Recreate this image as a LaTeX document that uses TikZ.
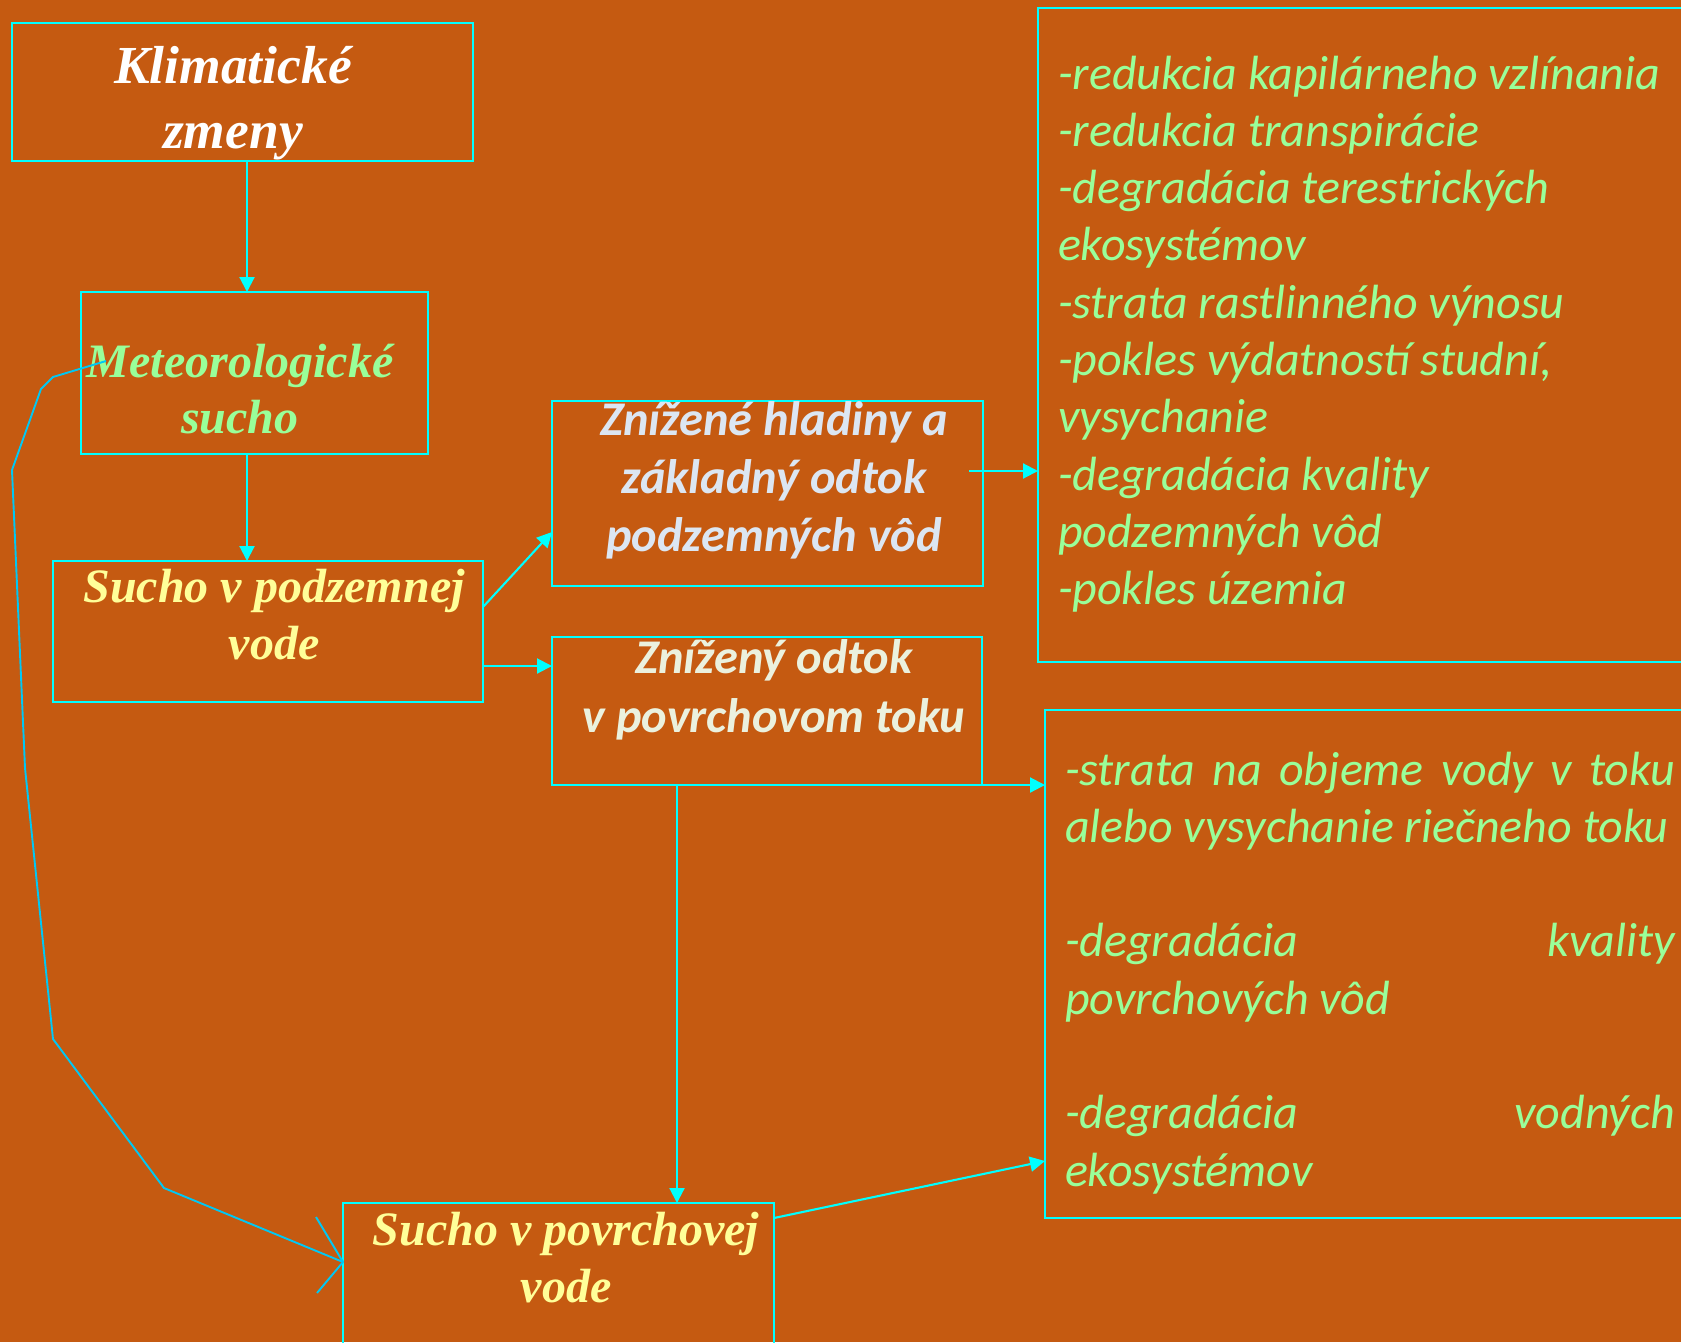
\documentclass[tikz,border=0pt]{standalone}
\usepackage{fontspec}
\setmainfont{Liberation Serif}
\newfontfamily\calfont{Carlito}
\usetikzlibrary{arrows.meta}
\definecolor{bg}{HTML}{C55A11}
\definecolor{cyanc}{HTML}{00FFFF}
\definecolor{polyc}{RGB}{0,200,245}
\definecolor{greent}{HTML}{99FF99}
\definecolor{yellowt}{HTML}{FFFF99}
\definecolor{bluet}{HTML}{DCE6F2}
\definecolor{palet}{HTML}{EBF1DE}
\newcommand\ctr[1]{\vtop{\halign{\hfil##\hfil\cr#1\crcr}}}
\newcommand\ltx[1]{\vtop{\halign{##\hfil\cr#1\crcr}}}
\begin{document}
\begin{tikzpicture}[x=1pt,y=-1pt,
  box/.style={draw=cyanc, line width=2.1pt, rectangle, inner sep=0pt, outer sep=0pt},
  arr/.style={draw=cyanc, line width=2.1pt, -{Triangle[length=15pt,width=15pt]}},
  poly/.style={draw=polyc, line width=1.9pt, line join=miter},
  txt/.style={inner sep=0pt, outer sep=0pt, anchor=base},
  ltxt/.style={inner sep=0pt, outer sep=0pt, anchor=base west},
  serif/.style={font=\bfseries\itshape},
  sans/.style={font=\calfont\bfseries\itshape},
  sansl/.style={font=\calfont\itshape}
]
\useasboundingbox (0,0) rectangle (1681,1342);
\fill[bg] (0,0) rectangle (1681,1342);
\clip (0,0) rectangle (1681,1342);

% boxes
\node[box, minimum width=461pt, minimum height=138pt] (k1) at (242.5,92) {};
\node[box, minimum width=347pt, minimum height=162pt] (k2) at (254.5,373) {};
\node[box, minimum width=430pt, minimum height=141pt] (k3) at (268,631.5) {};
\node[box, minimum width=431pt, minimum height=185pt] (k4) at (767.5,493.5) {};
\node[box, minimum width=430pt, minimum height=148pt] (k5) at (767,711) {};
\node[box, minimum width=431pt, minimum height=147pt] (k6) at (558.5,1276.5) {};
\node[box, minimum width=662pt, minimum height=654pt] (k7) at (1369,335) {};
\node[box, minimum width=655pt, minimum height=508pt] (k8) at (1372.5,964) {};

% texts
\node[txt, serif, text=white] (t1) at (233,83) {\fontsize{53.5}{65}\selectfont\ctr{Klimatické\cr zmeny}};
\node[txt, serif, text=greent] (t2) at (240,377) {\fontsize{48}{56}\selectfont\ctr{Meteorologické\cr sucho}};
\node[txt, serif, text=yellowt] (t3) at (274,602) {\fontsize{48}{57}\selectfont\ctr{Sucho v podzemnej\cr vode}};
\node[txt, serif, text=yellowt] (t6) at (566,1245) {\fontsize{48}{57}\selectfont\ctr{Sucho v povrchovej\cr vode}};
\node[txt, sans, text=bluet] (t4) at (774,435) {\fontsize{48.4}{58}\selectfont\ctr{Znížené hladiny a\cr základný odtok\cr podzemných vôd}};
\node[txt, sans, text=palet] (t5) at (774,673) {\fontsize{48.4}{59}\selectfont\ctr{Znížený odtok\cr v povrchovom toku}};
\node[ltxt, sansl, text=greent] (t7) at (1058,89) {\fontsize{48}{57.3}\selectfont\ltx{-redukcia kapilárneho vzlínania\cr
-redukcia transpirácie\cr
-degradácia terestrických\cr
ekosystémov\cr
-strata rastlinného výnosu\cr
-pokles výdatností studní,\cr
vysychanie\cr
-degradácia kvality\cr
podzemných vôd\cr
-pokles územia}};
\node[ltxt, sansl, text=greent] (t8) at (1065,785) {\fontsize{48}{57.3}\selectfont\ltx{\hbox to 610pt{-strata\hfill na\hfill objeme\hfill vody\hfill v\hfill toku}\cr
alebo vysychanie riečneho toku\cr
\cr
\hbox to 610pt{-degradácia\hfill kvality}\cr
povrchových vôd\cr
\cr
\hbox to 610pt{-degradácia\hfill vodných}\cr
ekosystémov}};

% helper coordinates
\coordinate (a1) at (247,0);
\coordinate (a5) at (677,0);
\coordinate (p3a) at ([yshift=24.5pt]k3.east);
\coordinate (p4a) at ([yshift=-38.5pt]k4.west);
\coordinate (p3b) at ([yshift=-34.5pt]k3.east);
\coordinate (p4) at (969,471);
\coordinate (p6) at ([yshift=-15pt]k6.north east);
\coordinate (p8) at ([yshift=-197pt]k8.west);
\coordinate (s2) at (106,361);
\coordinate (e6) at (343,1262);

% connectors
\draw[arr] (k1.south -| a1) -- (k2.north -| a1);
\draw[arr] (k2.south -| a1) -- (k3.north -| a1);
\draw[arr] (p3a) -- (p4a);
\draw[arr] (p3b) -- (p3b -| k5.west);
\draw[arr] (p4) -- (p4 -| k7.west);
\draw[arr] (k5.south east) -- (k5.south east -| k8.west);
\draw[arr] (k5.south -| a5) -- (k6.north -| a5);
\draw[arr] (p6) -- (p8);
\draw[poly] (s2) -- (53,377) -- (41,389) -- (12,470) -- (25,768) -- (53,1039) -- (164,1188) -- (e6);
\draw[poly] (316,1217) -- (e6) -- (317,1293);
\end{tikzpicture}
\end{document}
